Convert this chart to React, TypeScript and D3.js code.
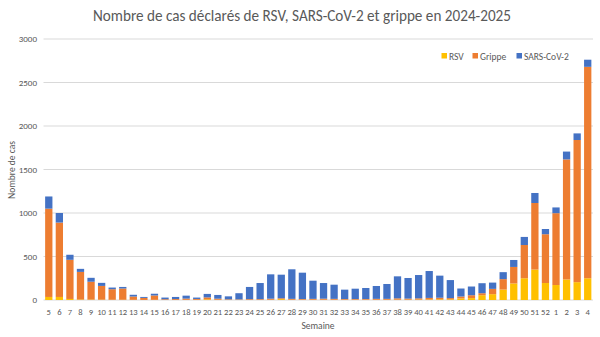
import React from "react";
import * as d3 from "d3";

const weeks = ["5","6","7","8","9","10","11","12","13","14","15","16","17","18","19","20","21","22","23","24","25","26","27","28","29","30","31","32","33","34","35","36","37","38","39","40","41","42","43","44","45","46","47","48","49","50","51","52","1","2","3","4"];
const rsv = [35,35,12,6,5,4,3,3,2,1,2,1,1,2,2,8,3,2,2,2,2,3,10,3,3,3,3,3,3,3,3,3,3,4,4,5,6,8,8,18,22,55,67,120,190,250,350,195,172,236,205,250];
const grippe = [1015,855,450,317,205,158,121,129,38,23,50,8,10,14,10,22,12,6,5,8,8,12,10,10,8,10,12,10,8,8,8,10,10,15,12,14,18,18,14,22,33,23,61,120,190,382,765,561,826,1380,1634,2430];
const sars = [140,110,58,35,45,35,19,18,20,11,20,19,24,34,16,40,43,34,71,140,185,280,271,340,303,209,180,163,108,119,127,148,171,253,237,268,309,254,207,92,100,115,72,80,80,93,115,60,66,90,76,82];
const yTicks = [0,500,1000,1500,2000,2500,3000];
const seriesNames = ["RSV","Grippe","SARS-CoV-2"];
const colors = ["#FFC000","#ED7D31","#4472C4"];

const W = 600, H = 337;
const left = 43.5, right = 593, top = 39, bottom = 300;
const font = "Carlito, Lato, 'Open Sans', sans-serif";

export default function App() {
  const table = weeks.map((w, i) => ({ week: w, RSV: rsv[i], Grippe: grippe[i], "SARS-CoV-2": sars[i] }));
  const stacked = d3.stack<any>().keys(seriesNames)(table);
  const x = d3.scaleBand<string>().domain(weeks).range([left, right]).padding(0);
  const y = d3.scaleLinear().domain([0, 3000]).range([bottom, top]);
  const bw = x.step() * 0.69;

  return (
    <svg width={W} height={H} style={{ position: "absolute", left: 0, top: 0, background: "#fff" }} fontFamily={font}>
      <rect x={0} y={0} width={W} height={H} fill="#fff" />
      <text x={302} y={21} textAnchor="middle" fontSize={15.5} fill="#595959" textLength={418} lengthAdjust="spacingAndGlyphs">
        Nombre de cas déclarés de RSV, SARS-CoV-2 et grippe en 2024-2025
      </text>
      {yTicks.map((t) => (
        <g key={t}>
          <line x1={left} x2={right} y1={y(t)} y2={y(t)} stroke="#d9d9d9" strokeWidth={1} />
          <text x={37} y={y(t) + 3.3} textAnchor="end" fontSize={9} fill="#595959">{t}</text>
        </g>
      ))}
      {stacked.map((s, si) => (
        <g key={s.key} fill={colors[si]}>
          {s.map((d, i) => (
            <rect key={i} x={(x(weeks[i]) as number) + x.step() / 2 - bw / 2} width={bw}
              y={y(d[1])} height={Math.max(0, y(d[0]) - y(d[1]))} />
          ))}
        </g>
      ))}
      {weeks.map((w) => (
        <text key={w} x={(x(w) as number) + x.step() / 2} y={315} textAnchor="middle" fontSize={8.6} fill="#595959">{w}</text>
      ))}
      <text x={318} y={329} textAnchor="middle" fontSize={9.5} fill="#595959">Semaine</text>
      <text transform={`translate(15,170) rotate(-90)`} textAnchor="middle" fontSize={9.5} fill="#595959">Nombre de cas</text>
      {seriesNames.map((n, i) => {
        const lx = [441.5, 472.5, 516.5][i];
        return (
          <g key={n}>
            <rect x={lx} y={53} width={5.5} height={5.5} fill={colors[i]} />
            <text x={lx + 7.5} y={59.5} fontSize={9.5} fill="#595959">{n}</text>
          </g>
        );
      })}
    </svg>
  );
}
